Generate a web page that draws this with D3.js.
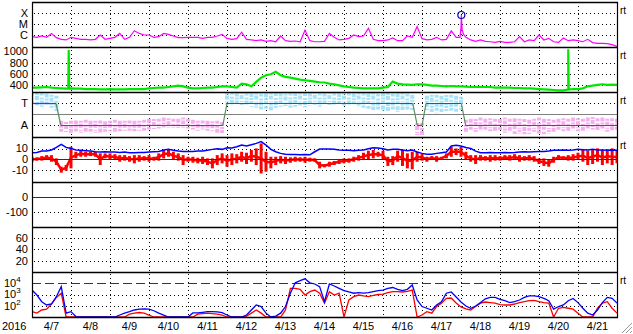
<!DOCTYPE html>
<html>
<head>
<meta charset="utf-8">
<script src="https://cdn.jsdelivr.net/npm/d3@7"></script>
<style>
  body { margin: 0; background: #fff; }
  svg text { font-family: "Liberation Sans", Arial, sans-serif; font-size: 11px; fill: #000; }
</style>
</head>
<body>
<svg id="chart" width="633" height="334"></svg>
<script>
// samples every 3 hours from 2016-04-07 00:00 UT to 2016-04-22 00:00 UT
const startDay = Date.UTC(2016, 3, 7);
const hours = d3.range(0, 361, 3);

// GOES X-ray flux (W/m2)
const xray = [
  7.0e-7, 6.1e-7, 8.1e-7, 6.1e-7, 1.4e-6, 5.7e-7, 4.0e-7, 3.5e-7, 6.1e-7, 4.9e-7,
  4.0e-7, 4.0e-7, 3.5e-7, 4.0e-7, 1.0e-6, 4.0e-7, 4.9e-7, 6.1e-7, 1.4e-6, 4.0e-7,
  6.1e-7, 2.5e-6, 1.4e-6, 1.0e-6, 1.0e-6, 6.1e-7, 7.0e-7, 1.4e-6, 1.15e-6, 8.1e-7,
  5.7e-7, 5.7e-7, 6.1e-7, 6.1e-7, 6.1e-7, 4.9e-7, 6.1e-7, 6.1e-7, 8.1e-7, 1.15e-6,
  4.9e-7, 4.0e-7, 4.6e-7, 1.8e-6, 4.0e-7, 3.5e-7, 3.0e-7, 3.5e-7, 2.6e-7, 3.0e-7,
  2.4e-7, 8.1e-7, 3.0e-7, 2.6e-7, 2.8e-7, 2.4e-7, 2.7e-6, 3.0e-7, 2.4e-7, 2.4e-7,
  2.6e-7, 1.4e-6, 6.1e-7, 3.5e-7, 4.0e-7, 4.9e-7, 1.0e-6, 7.0e-7, 8.1e-7, 4.1e-6,
  4.0e-7, 3.0e-7, 3.0e-7, 3.5e-7, 5.3e-7, 3.0e-7, 3.0e-7, 8.1e-7, 6.1e-7, 5.9e-6,
  4.6e-7, 3.5e-7, 4.0e-7, 6.1e-7, 3.5e-7, 4.0e-7, 2.4e-6, 6.1e-7, 5.0e-6, 6.1e-7,
  3.5e-7, 2.6e-7, 3.5e-7, 2.6e-7, 2.4e-7, 2.1e-7, 2.6e-7, 2.1e-7, 2.1e-7, 2.4e-7,
  7.0e-7, 2.4e-7, 3.5e-7, 3.0e-7, 1.0e-6, 3.5e-7, 4.9e-7, 2.4e-7, 2.1e-7, 5.3e-7,
  3.0e-7, 3.5e-7, 3.0e-7, 2.4e-7, 4.0e-7, 2.0e-7, 1.7e-7, 1.7e-7, 1.6e-7, 1.3e-7,
  9.0e-8
];
// M6.7 flare around 4/18 00:12
const xrayExtra = [[263.4, 6.0e-7], [264.2, 7.0e-5], [264.7, 3.0e-6], [265.5, 1.2e-6]];
const flareHour = [264.2];
const flareFlux = [7.0e-5];

// solar wind speed (km/s)
const speed = [
  358, 358, 364, 370, 358, 352, 346, 340, 346, 340,
  340, 334, 334, 334, 329, 329, 334, 329, 329, 329,
  334, 334, 334, 334, 346, 352, 358, 358, 370, 382,
  394, 382, 358, 346, 346, 352, 358, 358, 370, 382,
  382, 370, 358, 430, 418, 382, 460, 537, 579, 596,
  638, 579, 549, 537, 519, 501, 489, 477, 465, 454,
  450, 430, 418, 400, 382, 370, 358, 352, 346, 346,
  346, 346, 358, 370, 465, 430, 418, 412, 406, 418,
  418, 406, 394, 394, 388, 382, 388, 382, 382, 376,
  370, 370, 370, 370, 370, 358, 358, 358, 358, 352,
  352, 346, 346, 340, 334, 329, 323, 317, 311, 311,
  323, 334, 334, 346, 382, 394, 406, 418, 406, 412,
  406
];
const speedExtra = [[22.3, 342], [22.6, 1025], [22.9, 344], [329.7, 322], [330.0, 1037], [330.3, 324]];

// IMF sector: knots of the T / A step line
const sectorHours = [0, 14.8, 17.8, 117.4, 120.0, 234.3, 237.1, 240.0, 242.5, 264.2, 266.9, 360];
const sectorSide  = ["T", "T", "A", "A", "T", "T", "A", "A", "T", "T", "A", "A"];
// spread of the IMF angle points (T = 0.5, A = -0.5)
const phiHi = [
  1.0, 0.98, 1.0, 0.95, 0.9, 0.85, -0.3, -0.35, -0.3, -0.28,
  -0.3, -0.25, -0.3, -0.3, -0.28, -0.32, -0.3, -0.25, -0.3, -0.3,
  -0.28, -0.3, -0.3, -0.25, -0.2, -0.22, -0.2, -0.15, -0.18, -0.2,
  -0.2, -0.15, -0.2, -0.25, -0.3, -0.28, -0.3, -0.32, -0.3, -0.35,
  1.0, 1.03, 1.0, 1.02, 1.0, 0.98, 1.0, 0.95, 0.97, 1.0,
  0.98, 1.0, 0.95, 1.0, 1.02, 1.0, 0.98, 1.0, 1.03, 1.0,
  1.0, 1.02, 1.0, 0.98, 1.0, 1.0, 0.97, 1.0, 1.0, 0.98,
  1.0, 0.95, 1.0, 0.98, 0.95, 0.97, 1.0, 0.95, 0.9, -0.4,
  -0.4, 0.85, 0.9, 0.9, 0.85, 0.88, 0.9, 0.85, 0.8, -0.25,
  -0.2, -0.22, -0.15, -0.2, -0.18, -0.2, -0.22, -0.15, -0.2, -0.18,
  -0.2, -0.22, -0.25, -0.2, -0.15, -0.2, -0.22, -0.25, -0.2, -0.18,
  -0.2, -0.15, -0.18, -0.2, -0.15, -0.12, -0.18, -0.15, -0.2, -0.18,
  -0.2
];
const phiLo = [
  0.4, 0.42, 0.35, 0.4, 0.3, 0.15, -0.85, -0.85, -0.9, -0.88,
  -0.85, -0.8, -0.9, -0.85, -0.85, -0.8, -0.82, -0.8, -0.78, -0.8,
  -0.75, -0.78, -0.8, -0.75, -0.7, -0.72, -0.65, -0.6, -0.62, -0.6,
  -0.62, -0.6, -0.65, -0.7, -0.75, -0.7, -0.75, -0.8, -0.85, -0.95,
  0.45, 0.42, 0.45, 0.4, 0.42, 0.35, 0.3, 0.2, 0.25, 0.15,
  0.3, 0.35, 0.38, 0.3, 0.35, 0.4, 0.32, 0.38, 0.4, 0.35,
  0.4, 0.42, 0.45, 0.4, 0.38, 0.4, 0.42, 0.35, 0.3, 0.25,
  0.2, 0.2, 0.15, 0.1, 0.15, 0.1, 0.2, 0.15, 0.2, -0.95,
  -0.95, 0.2, 0.1, 0.05, 0.1, 0.15, 0.1, 0.12, 0.2, -0.8,
  -0.75, -0.8, -0.75, -0.8, -0.78, -0.75, -0.8, -0.85, -0.8, -0.9,
  -0.88, -0.92, -0.9, -0.85, -0.9, -0.92, -0.88, -0.8, -0.75, -0.78,
  -0.8, -0.75, -0.78, -0.8, -0.75, -0.7, -0.72, -0.75, -0.8, -0.78,
  -0.8
];

// IMF Bt and Bz range (nT)
const bt = [
  6.1, 6.4, 7.6, 7.6, 8.6, 11.0, 13.8, 11.0, 10.1, 8.6,
  8.3, 8.0, 7.6, 7.0, 6.8, 7.0, 6.8, 6.8, 6.4, 6.8,
  6.1, 6.1, 6.4, 6.4, 6.8, 7.0, 7.3, 8.6, 9.2, 8.3,
  7.6, 7.3, 7.3, 7.3, 7.6, 7.6, 8.3, 9.2, 9.8, 9.2,
  10.7, 10.4, 11.6, 13.2, 12.3, 13.5, 14.7, 16.3, 13.2, 9.2,
  7.0, 5.5, 4.8, 4.5, 4.5, 4.2, 4.5, 4.2, 7.0, 9.5,
  9.5, 9.5, 9.2, 8.6, 8.3, 8.3, 8.0, 8.3, 8.6, 9.8,
  10.7, 10.4, 9.8, 8.6, 9.2, 9.2, 8.6, 8.0, 8.6, 6.8,
  5.5, 4.8, 4.8, 5.5, 6.1, 6.8, 12.3, 12.9, 12.3, 11.0,
  10.1, 7.6, 6.1, 6.1, 6.4, 6.1, 6.1, 6.4, 6.1, 6.4,
  6.8, 7.0, 6.8, 7.0, 7.3, 7.3, 7.6, 8.3, 8.3, 8.6,
  8.3, 8.6, 9.2, 8.9, 8.6, 9.2, 8.6, 8.6, 8.3, 8.6,
  8.3
];
const bzHi = [
  2.4, 1.9, 3.0, 3.9, 3.9, 0.9, -6.8, -5.2, 11.6, 7.0,
  8.0, 7.0, 7.0, 7.0, 5.5, 5.5, 5.5, 4.8, 3.9, 3.9,
  3.0, 3.9, 3.9, 3.0, 3.9, 2.4, 5.5, 8.6, 8.6, 7.0,
  5.5, 3.9, 2.4, 2.4, 1.5, 2.4, 0.9, 0.9, 3.9, 5.5,
  3.9, 5.5, 4.8, 7.0, 6.1, 8.6, 10.1, 14.7, 7.0, 2.4,
  2.4, 3.0, 2.4, 1.9, 2.4, 1.9, 2.4, 1.5, 0.9, -2.2,
  -4.3, -2.2, -1.5, -0.1, 0.9, 0.9, 2.4, 3.9, 6.1, 8.0,
  8.6, 7.0, 8.0, 2.4, 3.0, 8.0, 8.6, 5.5, 7.0, 7.0,
  4.8, 2.4, 3.0, 3.0, 2.4, 5.5, 11.6, 10.1, 11.6, 7.0,
  3.9, 3.9, 3.9, 3.0, 3.9, 3.9, 3.0, 3.9, 3.9, 4.8,
  3.9, 3.0, 3.9, 3.0, 0.9, 0.9, -0.6, 2.4, 3.9, 3.0,
  3.9, 4.8, 6.1, 8.6, 8.0, 9.2, 10.1, 8.6, 9.2, 10.1,
  8.0
];
const bzLo = [
  -2.2, -1.2, -1.2, -0.6, -2.2, -5.2, -12.3, -10.5, -8.3, 0.9,
  2.4, 2.4, 3.0, 2.4, -5.2, 0.9, -0.6, 0.0, -2.2, -1.2,
  -2.2, -3.7, -2.2, -1.2, -2.2, -1.2, -1.2, 0.9, 2.4, -0.6,
  -1.2, -5.2, -2.2, -3.1, -3.7, -4.3, -5.2, -8.3, -5.2, -3.7,
  -6.8, -5.2, -3.7, -2.2, -4.3, -2.2, -5.2, -13.0, -11.4, -8.3,
  -5.2, -3.7, -4.3, -3.1, -2.2, -2.2, -3.1, -2.2, -2.2, -8.3,
  -7.4, -6.8, -5.2, -4.3, -3.7, -3.1, -2.2, -1.2, -0.6, 0.0,
  0.9, 2.4, -0.6, -6.1, -5.2, -2.2, -6.1, -8.3, -9.2, -2.2,
  -1.2, -2.2, -0.6, -2.2, -0.6, 0.9, 2.4, 3.9, 2.4, -0.6,
  -2.2, -4.3, -1.2, -1.2, -2.2, -1.2, -1.2, -0.6, -1.2, -0.6,
  -2.2, -1.2, -1.2, -2.2, -4.3, -6.1, -6.8, -3.1, 0.0, -0.6,
  -1.2, -1.2, -0.6, -2.2, -5.2, -4.3, -2.2, -5.2, -3.7, -5.2,
  -3.7
];

// >2 MeV electron flux (pfu), two satellites
const elecBlue = [
  2500, 900, 230, 117, 143, 640, 5000, 22, 30, 11,
  5, 5, 5, 5, 5, 5, 5, 5, 15, 22,
  30, 42, 50, 52, 50, 36, 22, 15, 5, 5,
  5, 5, 5, 23, 23, 26, 30, 30, 28, 24,
  15, 5, 5, 5, 15, 42, 117, 85, 22, 5,
  12, 22, 85, 1300, 11000, 17000, 25000, 11000, 8600, 5000,
  230, 8600, 5700, 3500, 2200, 1670, 1300, 1450, 1300, 1450,
  1800, 2200, 2500, 3500, 4200, 2900, 2200, 2900, 7000, 325,
  85, 60, 42, 117, 230, 1300, 1670, 600, 215, 95,
  60, 95, 190, 410, 550, 550, 370, 280, 190, 230,
  325, 550, 740, 740, 640, 450, 280, 50, 85, 117,
  280, 450, 190, 60, 22, 15, 42, 190, 550, 450,
  170
];
const elecRed = [
  30, 22, 42, 50, 143, 550, 1300, 5, 5, 5,
  5, 5, 5, 5, 5, 5, 5, 5, 5, 8,
  18, 22, 25, 22, 15, 8, 5, 5, 5, 5,
  5, 5, 5, 5, 18, 20, 22, 20, 18, 15,
  5, 5, 5, 5, 12, 22, 42, 22, 5, 5,
  5, 5, 42, 3500, 3500, 2900, 900, 1800, 2500, 1300,
  170, 1800, 900, 1300, 5, 325, 640, 900, 740, 640,
  820, 1000, 1100, 1450, 1800, 1800, 1670, 1900, 2500, 5,
  15, 30, 22, 85, 170, 450, 490, 175, 78, 52,
  42, 85, 170, 215, 190, 170, 125, 117, 117, 143,
  190, 230, 280, 300, 230, 190, 170, 5, 60, 72,
  60, 50, 22, 5, 5, 5, 60, 170, 230, 60,
  22
];

// axis labels
const xrayTicks = [["X", 1e-4], ["M", 1e-5], ["C", 1e-6]];
const speedTicks = [1000, 800, 600, 400];
const bTicks = [10, 0, -10];
const dstTicks = [0, -100];
const kpTicks = [60, 40, 20];
const elecTicks = [4, 3, 2];

const svg = d3.select("#chart");
const left = 32, right = 617, top0 = 2, ph = 45, nPanels = 7;
const pTop = i => top0 + i * ph;
const toDate = h => new Date(startDay + h * 3600e3);

const x = d3.scaleUtc()
  .domain([toDate(0), toDate(360)])
  .range([left, right]);

const yX   = d3.scaleLog().domain([1e-6, 1e-4]).range([35, 13.3]);
const ySw  = d3.scaleLinear().domain([400, 800]).range([85.3, 62.7]);
const ySec = d3.scaleLinear().domain([-0.5, 0.5]).range([125.2, 103.4]);
const yB   = d3.scaleLinear().domain([-10, 10]).range([170.2, 148.5]);
const yDst = d3.scaleLinear().domain([-100, 0]).range([212, 197]);
const yKp  = d3.scaleLinear().domain([20, 60]).range([260.7, 238.1]);
const yE   = d3.scaleLog().domain([10, 1e5]).range([317, 272]).clamp(true);

const crisp = v => Math.round(v) + 0.5;

// clip rects per panel
const defs = svg.append("defs");
for (let i = 0; i < nPanels; i++) {
  defs.append("clipPath").attr("id", "clip" + i)
    .append("rect")
    .attr("x", left).attr("y", pTop(i))
    .attr("width", right - left).attr("height", ph);
}
const panel = i => svg.append("g").attr("clip-path", `url(#clip${i})`);

const series = (vals, extra) => hours.map((h, i) => [h, vals[i]])
  .concat(extra || []).sort((a, b) => a[0] - b[0]);

function hDotted(y) {
  svg.append("line")
    .attr("x1", left + 2).attr("x2", right)
    .attr("y1", crisp(y)).attr("y2", crisp(y))
    .attr("stroke", "#000").attr("stroke-dasharray", "1,3")
    .attr("shape-rendering", "crispEdges");
}
function hSolid(g, y, color) {
  g.append("line")
    .attr("x1", left).attr("x2", right)
    .attr("y1", y).attr("y2", y)
    .attr("stroke", color).attr("stroke-width", 1.2);
}
function label(txt, y) {
  svg.append("text").attr("x", 28).attr("y", y).attr("dy", "0.36em")
    .attr("text-anchor", "end").text(txt);
}

// vertical day grid
const days = d3.utcDay.range(toDate(24), toDate(359));
svg.append("g").selectAll("line").data(days).enter().append("line")
  .attr("x1", d => crisp(x(d))).attr("x2", d => crisp(x(d)))
  .attr("y1", top0).attr("y2", pTop(nPanels))
  .attr("stroke", "#000").attr("stroke-dasharray", "1,3")
  .attr("shape-rendering", "crispEdges");

// panel 1: X-ray
xrayTicks.forEach(t => { hDotted(yX(t[1])); label(t[0], yX(t[1])); });
const g1 = panel(0);
g1.append("path")
  .datum(series(xray, xrayExtra))
  .attr("fill", "none").attr("stroke", "#ff00ff").attr("stroke-width", 1.2)
  .attr("d", d3.line().x(d => x(toDate(d[0]))).y(d => yX(d[1])));
g1.selectAll("circle").data(flareHour).enter().append("circle")
  .attr("cx", d => x(toDate(d))).attr("cy", (d, i) => yX(flareFlux[i]))
  .attr("r", 3.5).attr("fill", "none").attr("stroke", "#0000bb").attr("stroke-width", 1.2);

// panel 2: solar wind speed
speedTicks.forEach(v => { if (v < 1000) hDotted(ySw(v)); label(v, ySw(v)); });
panel(1).append("path")
  .datum(series(speed, speedExtra))
  .attr("fill", "none").attr("stroke", "#00e800").attr("stroke-width", 2.2)
  .attr("d", d3.line().x(d => x(toDate(d[0]))).y(d => ySw(d[1])));

// panel 3: sector
hDotted(ySec(0.5)); hDotted(ySec(-0.5));
label("T", ySec(0.5)); label("A", ySec(-0.5));
const g3 = panel(2);
const speckle = ["4,1,2,1,3,2", "2,1,4,2,1,1", "3,2,2,1,4,1"];
g3.selectAll("line.pt").data(hours).enter().append("line")
  .attr("class", "pt")
  .attr("x1", d => x(toDate(d))).attr("x2", d => x(toDate(d)))
  .attr("y1", (d, i) => ySec(phiHi[i])).attr("y2", (d, i) => ySec(phiLo[i]))
  .attr("stroke-width", 4)
  .attr("stroke-dasharray", (d, i) => speckle[i % 3])
  .attr("stroke", (d, i) => phiHi[i] + phiLo[i] > 0 ? "#a8e2f8" : "#f4b0ee");
hSolid(g3, crisp(ySec(0)), "#808080");
const sideVal = s => s === "T" ? 0.5 : -0.5;
for (let i = 0; i < sectorHours.length - 1; i++) {
  const a = sectorSide[i], b = sectorSide[i + 1];
  g3.append("line")
    .attr("x1", x(toDate(sectorHours[i]))).attr("x2", x(toDate(sectorHours[i + 1])))
    .attr("y1", crisp(ySec(sideVal(a)))).attr("y2", crisp(ySec(sideVal(b))))
    .attr("stroke", a !== b ? "#5a8c5a" : (a === "T" ? "#3a3aff" : "#d42020"))
    .attr("stroke-width", 1.2);
}

// panel 4: IMF
hDotted(yB(10)); hDotted(yB(-10));
bTicks.forEach(v => label(v, yB(v)));
const g4 = panel(3);
g4.selectAll("line.bz").data(hours).enter().append("line")
  .attr("class", "bz")
  .attr("x1", d => x(toDate(d))).attr("x2", d => x(toDate(d)))
  .attr("y1", (d, i) => yB(bzHi[i])).attr("y2", (d, i) => yB(bzLo[i]))
  .attr("stroke", "#ff0000").attr("stroke-width", 3);
g4.append("path")
  .datum(hours.map((h, i) => [h, (bzLo[i] + bzHi[i]) / 2]))
  .attr("fill", "none").attr("stroke", "#ff0000").attr("stroke-width", 2.5)
  .attr("d", d3.line().x(d => x(toDate(d[0]))).y(d => yB(d[1])));
hSolid(g4, crisp(yB(0)), "#a00000");
g4.append("path")
  .datum(series(bt))
  .attr("fill", "none").attr("stroke", "#0000ff").attr("stroke-width", 1.5)
  .attr("d", d3.line().x(d => x(toDate(d[0]))).y(d => yB(d[1])));

// panel 5: Dst (no data)
hDotted(yDst(-100));
dstTicks.forEach(v => label(v, yDst(v)));
hSolid(panel(4), crisp(yDst(0)), "#a00000");

// panel 6: (no data)
kpTicks.forEach(v => { hDotted(yKp(v)); label(v, yKp(v)); });

// panel 7: electrons
hDotted(yE(1e3)); hDotted(yE(1e2));
elecTicks.forEach(p => {
  const t = svg.append("text").attr("x", 4).attr("y", yE(Math.pow(10, p))).attr("dy", "0.36em");
  t.append("tspan").text("10");
  t.append("tspan").attr("dy", "-5").attr("font-size", "8px").text(p);
});
const g7 = panel(6);
g7.append("line")
  .attr("x1", left).attr("x2", right)
  .attr("y1", crisp(yE(1e4))).attr("y2", crisp(yE(1e4)))
  .attr("stroke", "#b00000").attr("stroke-width", 1.2).attr("stroke-dasharray", "9,4");
[[elecRed, "#ff0000"], [elecBlue, "#0000ff"]].forEach(s => {
  g7.append("path")
    .datum(series(s[0]))
    .attr("fill", "none").attr("stroke", s[1]).attr("stroke-width", 1.3)
    .attr("d", d3.line().x(d => x(toDate(d[0]))).y(d => yE(d[1])));
});

// frame
for (let i = 0; i <= nPanels; i++) {
  svg.append("line").attr("x1", left).attr("x2", right + 1)
    .attr("y1", pTop(i) + 0.5).attr("y2", pTop(i) + 0.5)
    .attr("stroke", "#000").attr("stroke-width", 1.6);
}
[left, right].forEach(v => {
  svg.append("line").attr("x1", v + 0.5).attr("x2", v + 0.5)
    .attr("y1", top0).attr("y2", pTop(nPanels) + 1)
    .attr("stroke", "#000").attr("stroke-width", 1.2);
});

// "rt" marks
[0, 1, 2, 3, 6].forEach(i => {
  svg.append("text").attr("x", 620).attr("y", pTop(i) + 12)
    .style("font-size", "10px").text("rt");
});

// time axis labels
svg.append("text").attr("x", 2).attr("y", 330).text("2016");
const noons = d3.utcDay.range(toDate(0), toDate(360)).map(d => d3.utcHour.offset(d, 12));
svg.append("g").selectAll("text").data(noons).enter().append("text")
  .attr("x", d => x(d)).attr("y", 330).attr("text-anchor", "middle")
  .text(d3.utcFormat("%-m/%-d"));

// window resize grip
[10, 6, 2].forEach(o => {
  svg.append("line").attr("x1", 632 - o).attr("y1", 333).attr("x2", 632).attr("y2", 333 - o)
    .attr("stroke", "#9a9a9a").attr("stroke-width", 1);
});
</script>
</body>
</html>
